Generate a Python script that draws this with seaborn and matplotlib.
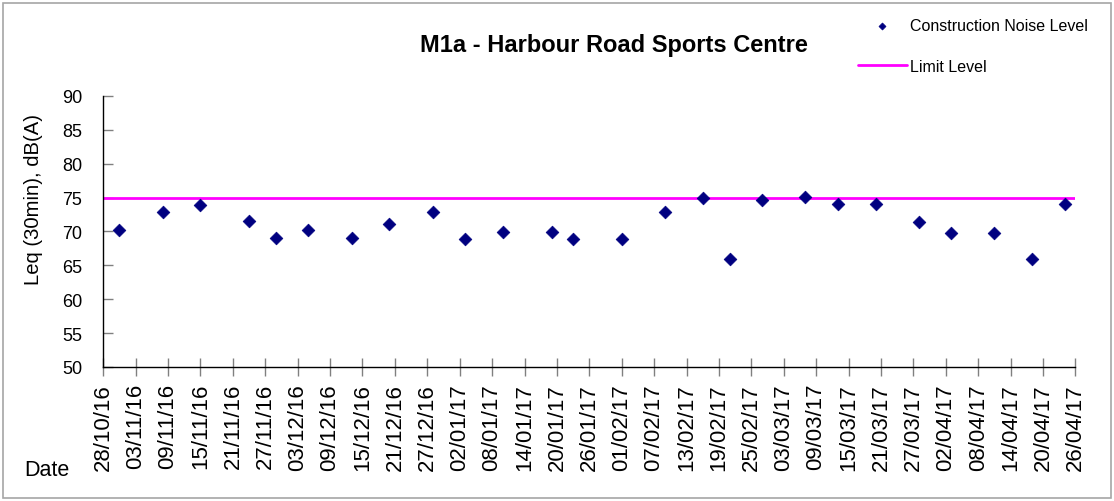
import numpy as np
import pandas as pd
import matplotlib
matplotlib.use("Agg")
import matplotlib.pyplot as plt
import matplotlib.dates as mdates
import seaborn as sns

dates = ["31/10/16", "08/11/16", "15/11/16", "24/11/16", "29/11/16", "05/12/16",
         "13/12/16", "20/12/16", "28/12/16", "03/01/17", "10/01/17", "19/01/17",
         "23/01/17", "01/02/17", "09/02/17", "16/02/17", "21/02/17", "27/02/17",
         "07/03/17", "13/03/17", "20/03/17", "28/03/17", "03/04/17", "11/04/17",
         "18/04/17", "24/04/17"]
levels = [70.2, 72.9, 73.9, 71.6, 69.1, 70.2,
          69.1, 71.1, 72.9, 68.9, 69.9, 69.9,
          68.9, 68.9, 72.9, 75.0, 65.9, 74.7,
          75.1, 74.0, 74.1, 71.4, 69.7, 69.7,
          65.9, 74.0]
limit_level = 75
axis_start = "28/10/16"
axis_end = "26/04/17"

df = pd.DataFrame({"Date": pd.to_datetime(dates, format="%d/%m/%y"), "Level": levels})
x0 = pd.to_datetime(axis_start, format="%d/%m/%y")
x1 = pd.to_datetime(axis_end, format="%d/%m/%y")

sns.set_style("white")
plt.rcParams["font.family"] = ["Liberation Sans", "DejaVu Sans"]
plt.rcParams["text.color"] = "black"
plt.rcParams["axes.labelcolor"] = "black"

fig = plt.figure(figsize=(11.14, 5.02), dpi=100)
ax = fig.add_axes([0.0927, 0.267, 0.8726, 0.540])

ax.axhline(limit_level, color="#ff00ff", lw=2, label="Limit Level", zorder=1)
sns.scatterplot(data=df, x="Date", y="Level", marker="D", s=42, color="#000080",
                edgecolor="#000080", linewidth=0.5, ax=ax,
                label="Construction Noise Level", zorder=3)

ax.set_xlim(x0, x1)
ax.set_ylim(50, 90)
ax.set_yticks(np.arange(50, 91, 5))
ax.set_xticks(pd.date_range(x0, x1, freq="6D"))
ax.xaxis.set_major_formatter(mdates.DateFormatter("%d/%m/%y"))
ax.tick_params(axis="x", rotation=90, labelsize=16, length=13, width=1,
               color="#808080", labelcolor="black", direction="inout",
               bottom=True, pad=5)
ax.tick_params(axis="y", labelsize=13, length=7, width=1, color="#808080",
               labelcolor="black", direction="in", left=True, pad=15)

for s in ["top", "right"]:
    ax.spines[s].set_visible(False)
for s in ["left", "bottom"]:
    ax.spines[s].set_color("black")
    ax.spines[s].set_linewidth(1)

ax.set_xlabel("")
ax.set_ylabel("")
fig.text(0.0305, 0.6016, "Leq (30min), dB(A)", fontsize=14.6, rotation=90,
         ha="center", va="center")
fig.text(0.022, 0.062, "Date", fontsize=15.5, ha="left", va="center")

fig.text(0.5507, 0.91, "M1a - Harbour Road Sports Centre", fontsize=17,
         fontweight="bold", ha="center", va="center")

# legend in two rows, scatter first
h, l = ax.get_legend_handles_labels()
order = [l.index("Construction Noise Level"), l.index("Limit Level")]
ax.legend([h[i] for i in order], [l[i] for i in order], loc="upper left",
          bbox_to_anchor=(0.757, 0.99), bbox_transform=fig.transFigure,
          frameon=False, fontsize=11.5, handlelength=3.1, handletextpad=0.15,
          labelspacing=1.6, markerscale=0.55)

fig.patches.append(plt.Rectangle((0.003, 0.005), 0.994, 0.988, transform=fig.transFigure,
                                 fill=False, edgecolor="#a6a6a6", lw=1.2))

fig.savefig("out.png", dpi=100)
